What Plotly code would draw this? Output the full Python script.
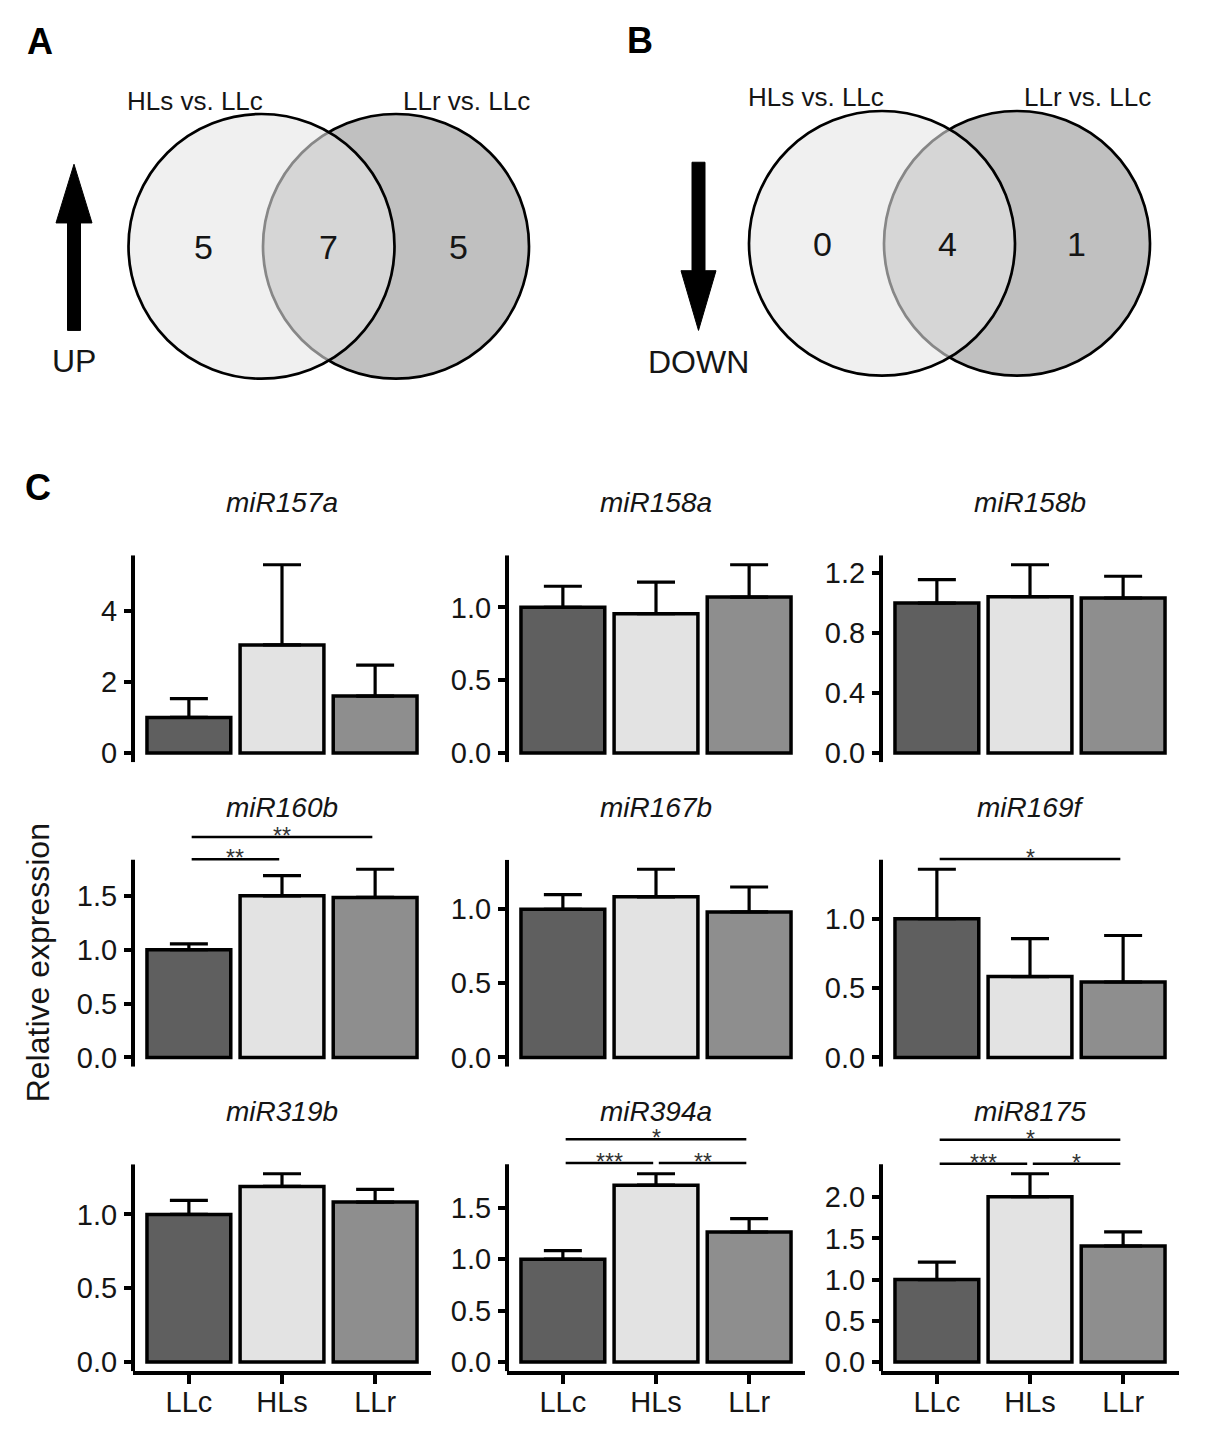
import plotly.graph_objects as go

# ---------------- data ----------------
groups = ["LLc", "HLs", "LLr"]
bar_colors = ["#5f5f5f", "#e3e3e3", "#8e8e8e"]

mirnas = ["miR157a", "miR158a", "miR158b",
          "miR160b", "miR167b", "miR169f",
          "miR319b", "miR394a", "miR8175"]

mir157a_mean = [1.00, 3.04, 1.60]
mir157a_err = [0.53, 2.26, 0.87]
mir158a_mean = [1.00, 0.956, 1.071]
mir158a_err = [0.145, 0.217, 0.222]
mir158b_mean = [1.00, 1.043, 1.034]
mir158b_err = [0.157, 0.213, 0.145]
mir160b_mean = [1.00, 1.50, 1.485]
mir160b_err = [0.055, 0.188, 0.262]
mir167b_mean = [1.00, 1.084, 0.982]
mir167b_err = [0.098, 0.186, 0.168]
mir169f_mean = [1.00, 0.583, 0.544]
mir169f_err = [0.357, 0.274, 0.335]
mir319b_mean = [1.00, 1.19, 1.084]
mir319b_err = [0.095, 0.086, 0.086]
mir394a_mean = [1.00, 1.72, 1.264]
mir394a_err = [0.083, 0.111, 0.131]
mir8175_mean = [1.00, 2.008, 1.408]
mir8175_err = [0.212, 0.278, 0.172]

means = [mir157a_mean, mir158a_mean, mir158b_mean, mir160b_mean, mir167b_mean,
         mir169f_mean, mir319b_mean, mir394a_mean, mir8175_mean]
errs = [mir157a_err, mir158a_err, mir158b_err, mir160b_err, mir167b_err,
        mir169f_err, mir319b_err, mir394a_err, mir8175_err]

tick_157a = [0, 2, 4]
tick_158a = [0, 0.5, 1.0]
tick_158b = [0, 0.4, 0.8, 1.2]
tick_160b = [0, 0.5, 1.0, 1.5]
tick_167b = [0, 0.5, 1.0]
tick_169f = [0, 0.5, 1.0]
tick_319b = [0, 0.5, 1.0]
tick_394a = [0, 0.5, 1.0, 1.5]
tick_8175 = [0, 0.5, 1.0, 1.5, 2.0]
ticks = [tick_157a, tick_158a, tick_158b, tick_160b, tick_167b,
         tick_169f, tick_319b, tick_394a, tick_8175]
tick_formats = [".0f"] + [".1f"] * 8

# significance: (group i, group j, level, label)
sig_160b = [(0, 1, 1.84, "**"), (0, 2, 2.047, "**")]
sig_169f = [(0, 2, 1.43, "*")]
sig_394a = [(0, 1, 1.936, "***"), (1, 2, 1.936, "**"), (0, 2, 2.166, "*")]
sig_8175 = [(0, 1, 2.408, "***"), (1, 2, 2.408, "*"), (0, 2, 2.70, "*")]
sigs = [[], [], [], sig_160b, [], sig_169f, [], sig_394a, sig_8175]

venn_set_labels = ["HLs vs. LLc", "LLr vs. LLc"]
venn_up_counts = [5, 7, 5]
venn_down_counts = [0, 4, 1]

# ---------------- layout helpers ----------------
W, H = 1213, 1437
OFFX, OFFY = 8, 5  # page body margin offset
FONT = "Liberation Sans, Arial, sans-serif"
TXT = "#151515"


def px2x(px):
    return (px - OFFX) / W


def py2y(py):
    return 1 - (py - OFFY) / H


col_left = [133, 507, 881]
panel_w = 298
row_top = [555, 861, 1167]
panel_h = 208

fig = go.Figure()
shapes = []
annotations = []
layout_axes = {}

for k, name in enumerate(mirnas):
    r, c = divmod(k, 3)
    n = k + 1
    xa = "x" if n == 1 else f"x{n}"
    ya = "y" if n == 1 else f"y{n}"
    xkey = "xaxis" if n == 1 else f"xaxis{n}"
    ykey = "yaxis" if n == 1 else f"yaxis{n}"

    m = means[k]
    e = errs[k]
    top = max(a + b for a, b in zip(m, e))
    lo, hi = -0.05 * top, 1.05 * top
    if sigs[k]:
        top_val = max(s[2] for s in sigs[k]) + 0.12 * (hi - lo)
    else:
        top_val = hi
    bottom_px = row_top[r] + panel_h
    dh = panel_h * (top_val - lo) / (hi - lo)
    ydom = [py2y(bottom_px), py2y(bottom_px - dh)]
    xdom = [px2x(col_left[c]), px2x(col_left[c] + panel_w)]

    fig.add_trace(go.Bar(
        x=groups, y=m, xaxis=xa, yaxis=ya, width=0.9,
        marker=dict(color=bar_colors, line=dict(color="black", width=3.5)),
        error_y=dict(type="data", symmetric=False, array=e, arrayminus=[0, 0, 0],
                     color="black", thickness=3.2, width=19),
        showlegend=False, hoverinfo="skip",
    ))

    bottom_row = (r == 2)
    layout_axes[xkey] = dict(
        domain=xdom, anchor=ya, range=[-0.6, 2.6], type="category",
        showgrid=False, zeroline=False, fixedrange=True,
        showline=bottom_row, linecolor="black", linewidth=4,
        ticks="outside" if bottom_row else "", ticklen=9, tickwidth=3.5, tickcolor="black",
        showticklabels=bottom_row, ticklabelstandoff=-7,
        tickfont=dict(family=FONT, size=29, color=TXT),
    )
    layout_axes[ykey] = dict(
        domain=ydom, anchor=xa, range=[lo, top_val],
        showgrid=False, zeroline=False, fixedrange=True, showline=False,
        tickvals=ticks[k], tickformat=tick_formats[k],
        ticks="outside", ticklen=8, tickwidth=3.5, tickcolor="black",
        tickfont=dict(family=FONT, size=29, color=TXT),
        ticklabelstandoff=1,
    )
    # y axis line, limited to the data panel
    shapes.append(dict(type="line", xref=f"{xa} domain", yref=ya,
                       x0=0, x1=0, y0=lo, y1=hi,
                       line=dict(color="black", width=4)))
    # significance lines
    for (i, j, lev, lab) in sigs[k]:
        shapes.append(dict(type="line", xref=xa, yref=ya,
                           x0=i + 0.03, x1=j - 0.03, y0=lev, y1=lev,
                           line=dict(color="black", width=2.5)))
        annotations.append(dict(x=(i + j) / 2, y=lev, xref=xa, yref=ya,
                                text=lab, showarrow=False, yanchor="middle",
                                yshift=1, borderpad=0,
                                font=dict(family=FONT, size=23, color="#333333")))
    # panel title
    annotations.append(dict(x=px2x(col_left[c] + panel_w / 2),
                            y=py2y(row_top[r] - 53),
                            xref="paper", yref="paper", text=name, showarrow=False,
                            xanchor="center", yanchor="middle", borderpad=0,
                            font=dict(family=FONT, size=28, color=TXT, style="italic")))

# ---------------- Venn diagrams ----------------
VX, VY = "x10", "y10"
VOFFY = 8
venn_h = 430
layout_axes["xaxis10"] = dict(domain=[0, 1], anchor=VY, range=[OFFX, W + OFFX],
                              visible=False, fixedrange=True)
layout_axes["yaxis10"] = dict(domain=[1 - venn_h / H, 1], anchor=VX,
                              range=[venn_h + VOFFY, VOFFY], visible=False, fixedrange=True)
fig.add_trace(go.Scatter(x=[OFFX], y=[VOFFY], xaxis=VX, yaxis=VY, mode="markers",
                         marker=dict(opacity=0), showlegend=False, hoverinfo="skip"))

R = 133
venns = [
    dict(left=(261.5, 247.5), right=(396, 247.5), counts=venn_up_counts,
         cpos=[203, 328, 458], cy=248, lpos=[(195, 101), (466, 101)]),
    dict(left=(882, 244.5), right=(1017, 244.5), counts=venn_down_counts,
         cpos=[822.6, 947.6, 1076.6], cy=245, lpos=[(816, 97), (1087, 97)]),
]
for v in venns:
    (lx, ly), (rx, ry) = v["left"], v["right"]
    shapes.append(dict(type="circle", xref=VX, yref=VY,
                       x0=rx - R, x1=rx + R, y0=ry - R, y1=ry + R,
                       fillcolor="#c0c0c0", line=dict(color="black", width=2.7)))
    shapes.append(dict(type="circle", xref=VX, yref=VY,
                       x0=lx - R, x1=lx + R, y0=ly - R, y1=ly + R,
                       fillcolor="rgba(230,230,230,0.587)",
                       line=dict(color="black", width=2.7)))
    for cnt, px in zip(v["counts"], v["cpos"]):
        annotations.append(dict(x=px, y=v["cy"], xref=VX, yref=VY, text=str(cnt),
                                showarrow=False, xanchor="center", yanchor="middle",
                                font=dict(family=FONT, size=34, color=TXT)))
    for lab, (px, py) in zip(venn_set_labels, v["lpos"]):
        annotations.append(dict(x=px, y=py, xref=VX, yref=VY, text=lab,
                                showarrow=False, xanchor="center", yanchor="middle",
                                font=dict(family=FONT, size=26, color=TXT)))

# arrows
shapes.append(dict(type="path", xref=VX, yref=VY, fillcolor="black",
                   line=dict(color="black", width=1),
                   path="M 67.5 332 L 80.5 332 L 80.5 224 L 92 224 L 74 165 L 56 224 L 67.5 224 Z"))
shapes.append(dict(type="path", xref=VX, yref=VY, fillcolor="black",
                   line=dict(color="black", width=1),
                   path="M 692 163 L 705 163 L 705 272 L 716 272 L 698.5 332 L 681 272 L 692 272 Z"))
annotations.append(dict(x=74, y=363, xref=VX, yref=VY, text="UP", showarrow=False,
                        font=dict(family=FONT, size=32, color=TXT)))
annotations.append(dict(x=698, y=364, xref=VX, yref=VY, text="DOWN", showarrow=False,
                        font=dict(family=FONT, size=32, color=TXT)))

# panel letters
for lab, (px, py) in zip(["A", "B", "C"], [(40, 39), (640, 38), (38, 487)]):
    annotations.append(dict(x=px2x(px), y=py2y(py), xref="paper", yref="paper",
                            text=f"<b>{lab}</b>", showarrow=False,
                            xanchor="center", yanchor="middle",
                            font=dict(family=FONT, size=36, color="black")))

# y-axis title
annotations.append(dict(x=px2x(38), y=py2y(965), xref="paper", yref="paper",
                        text="Relative expression", textangle=-90, showarrow=False,
                        xanchor="center", yanchor="middle",
                        font=dict(family=FONT, size=32, color=TXT)))

fig.update_layout(
    width=W, height=H, margin=dict(l=0, r=0, t=0, b=0),
    paper_bgcolor="white", plot_bgcolor="rgba(0,0,0,0)",
    showlegend=False, bargap=0.1,
    shapes=shapes, annotations=annotations,
    font=dict(family=FONT),
    **layout_axes,
)

fig.write_html("out.html")
